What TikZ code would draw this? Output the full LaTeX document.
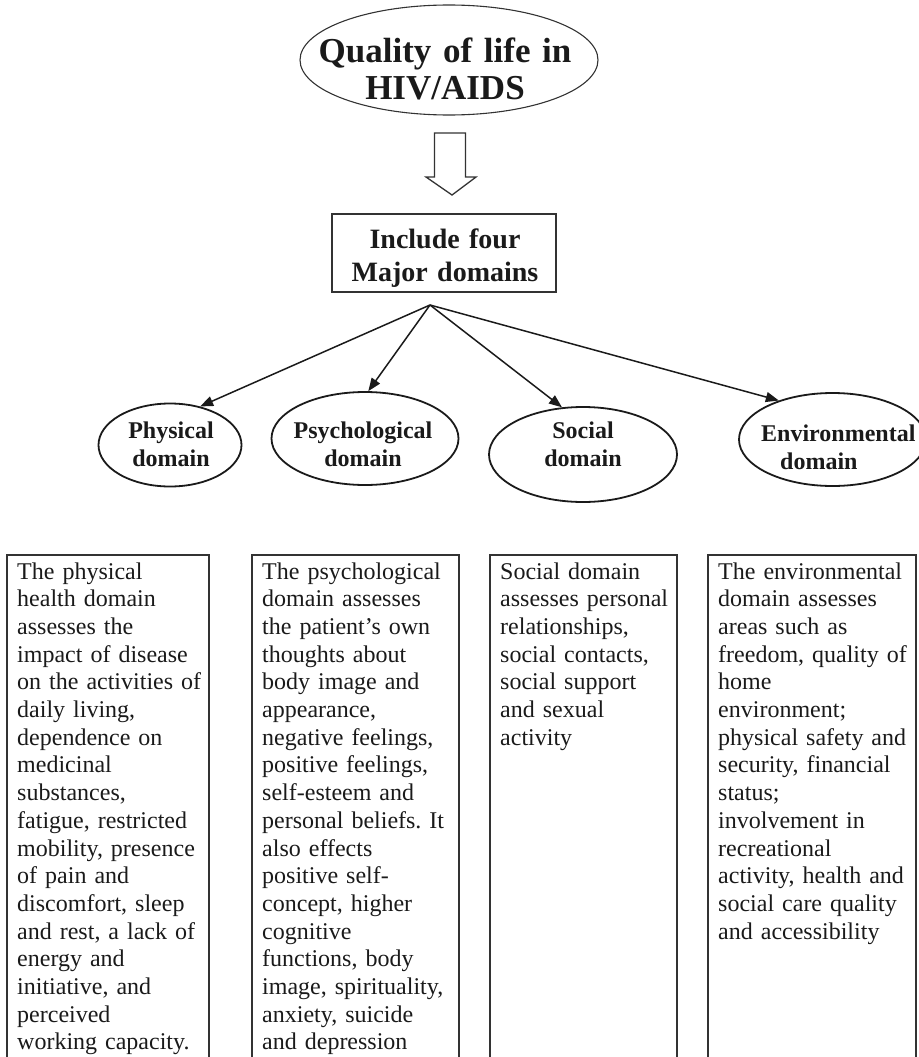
\documentclass[tikz,border=0pt]{standalone}
\usepackage{fontspec}
\setmainfont{Liberation Serif}
\usetikzlibrary{shapes.geometric,arrows.meta,calc}
\definecolor{ink}{HTML}{1A1A1A}
\definecolor{edge}{HTML}{333333}
\frenchspacing
\begin{document}
\begin{tikzpicture}[x=1pt,y=-1pt,
  oval/.style={ellipse, draw=ink, line width=1.8pt, inner sep=0},
  titleoval/.style={ellipse, draw=edge, line width=1.1pt, inner sep=0},
  headtxt/.style={font=\fontsize{24}{28}\selectfont\bfseries, text=ink, align=center, text width=180pt, inner sep=0, anchor=base},
  bodytxt/.style={font=\fontsize{24}{27.7}\selectfont, text=ink, align=left, text width=200pt, inner sep=0, anchor=base west},
  panel/.style={draw=edge, line width=1.2pt},
  conn/.style={draw=ink, line width=1.5pt, -{Triangle[length=13pt,width=10pt]}}
]
\useasboundingbox (0,0) rectangle (918,1057);

% title
\node[titleoval, minimum width=298pt, minimum height=110pt] (title) at (449,60) {};
\node[font=\fontsize{35}{37}\selectfont\bfseries, text=ink, align=center, text width=300pt, inner sep=0, anchor=base] (titletxt) at (445,63) {Quality of life in\\HIV/AIDS};

% hollow arrow
\coordinate (ha) at (450,133);
\draw[draw=edge, line width=1.3pt, line join=miter]
  ($(ha)+(-15.5,0)$) -- ++(0,44) -- ++(-8.5,0) -- ($(ha)+(2,62)$) -- ($(ha)+(26,44)$) -- ++(-10.5,0) -- ($(ha)+(15.5,0)$) -- cycle;

% include box
\node[draw=edge, line width=1.2pt, minimum width=224pt, minimum height=78pt, inner sep=0] (incl) at (444,253) {};
\node[font=\fontsize{28}{33}\selectfont\bfseries, text=ink, align=center, text width=220pt, inner sep=0, anchor=base] (incltxt) at (445,248) {Include four\\Major domains};

\coordinate (hub) at (430,305);

% domain ellipses
\node[oval, minimum width=143pt, minimum height=83pt] (phys) at (170,445) {};
\node[oval, minimum width=187pt, minimum height=93pt] (psych) at (365,438.5) {};
\node[oval, minimum width=188pt, minimum height=95pt] (soc) at (583,454.5) {};
\node[oval, minimum width=187pt, minimum height=93pt] (env) at (832.5,439.5) {};

\node[headtxt] (physt) at (171,438) {Physical\\domain};
\node[headtxt] (psycht) at (363,438) {Psychological\\domain};
\node[headtxt] (soct) at (583,438) {Social\\domain};
\node[headtxt, align=left, text width=170pt, anchor=base west] (envt) at (761,441) {Environmental\\\hspace*{19pt}domain};

% connectors
\draw[conn] (hub) -- (phys.52);
\draw[conn] (hub) -- (psych.86);
\draw[conn] (hub) -- (soc.114);
\draw[conn] (hub) -- (env.144);

% bottom panels (open at bottom edge)
\draw[panel] (7,1057) -- (7,555) -- (209,555) -- (209,1057);
\draw[panel] (252,1057) -- (252,555) -- (459,555) -- (459,1057);
\draw[panel] (490,1057) -- (490,555) -- (677,555) -- (677,1057);
\draw[panel] (708,1057) -- (708,555) -- (916,555) -- (916,1057);

\node[bodytxt] (physb) at (17,579) {The physical\\health domain\\assesses the\\impact of disease\\on the activities of\\daily living,\\dependence on\\medicinal\\substances,\\fatigue, restricted\\mobility, presence\\of pain and\\discomfort, sleep\\and rest, a lack of\\energy and\\initiative, and\\perceived\\working capacity.};
\node[bodytxt] (psychb) at (262,579) {The psychological\\domain assesses\\the patient’s own\\thoughts about\\body image and\\appearance,\\negative feelings,\\positive feelings,\\self-esteem and\\personal beliefs. It\\also effects\\positive self-\\concept, higher\\cognitive\\functions, body\\image, spirituality,\\anxiety, suicide\\and depression};
\node[bodytxt] (socb) at (500,579) {Social domain\\assesses personal\\relationships,\\social contacts,\\social support\\and sexual\\activity};
\node[bodytxt] (envb) at (718,579) {The environmental\\domain assesses\\areas such as\\freedom, quality of\\home\\environment;\\physical safety and\\security, financial\\status;\\involvement in\\recreational\\activity, health and\\social care quality\\and accessibility};
\end{tikzpicture}
\end{document}
